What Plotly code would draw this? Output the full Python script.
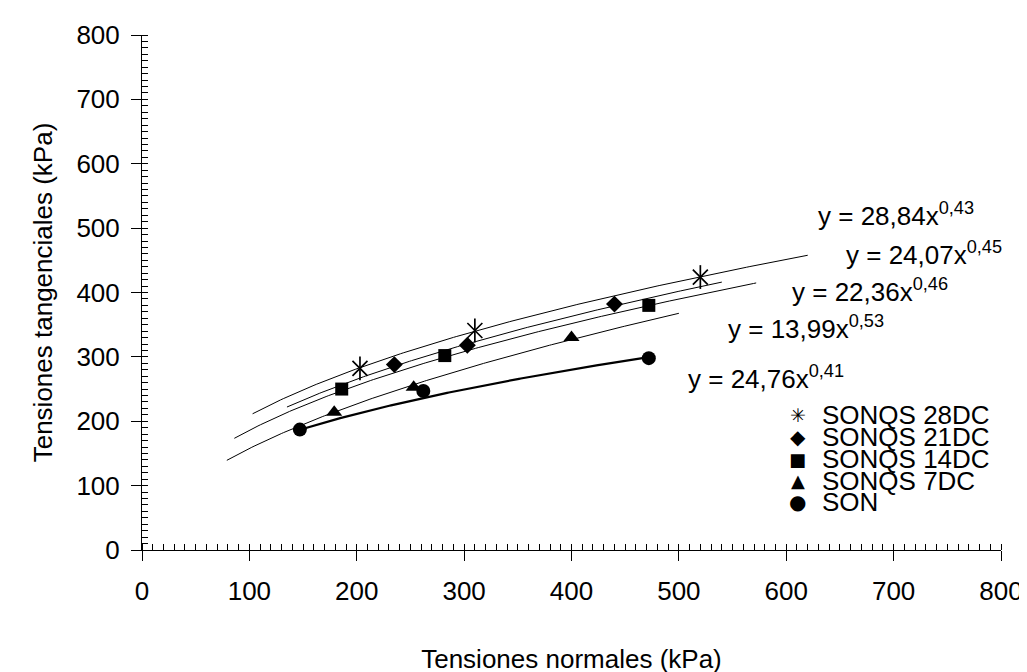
import numpy as np
import plotly.graph_objects as go

# ---------------- data ----------------
series_names = ["SONQS 28DC", "SONQS 21DC", "SONQS 14DC", "SONQS 7DC", "SON"]

x_28dc = [203, 310, 520]
y_28dc = [282, 341, 424]
x_21dc = [235, 303, 440]
y_21dc = [288, 318, 382]
x_14dc = [186, 282, 472]
y_14dc = [250, 302, 380]
x_7dc = [179, 253, 400]
y_7dc = [214, 253, 330]
x_son = [147, 262, 472]
y_son = [187, 247, 298]

# power trendlines printed on the chart: y = a * x^b
# (exponents; they round to the printed values)
trend_a = [28.84, 24.07, 22.36, 13.99, 24.76]
trend_b = [0.430, 0.453, 0.460, 0.526, 0.405]
trend_x_start = [103, 135, 86, 79, 147]
trend_x_end = [620, 540, 572, 500, 472]
eq_labels = ["y = 28,84x<sup>0,43</sup>", "y = 24,07x<sup>0,45</sup>",
             "y = 22,36x<sup>0,46</sup>", "y = 13,99x<sup>0,53</sup>",
             "y = 24,76x<sup>0,41</sup>"]

x_ticks = [0, 100, 200, 300, 400, 500, 600, 700, 800]
y_ticks = [0, 100, 200, 300, 400, 500, 600, 700, 800]

# ---------------- layout helpers ----------------
W, H = 1027, 672
ML, MR, MT, MB = 134, 27, 22, 123
PW, PH = W - ML - MR, H - MT - MB
FONT = "Liberation Sans, Arial, sans-serif"
FS = 26


def px_x(p):
    return (p - ML) / PW


def px_y(p):
    return (H - MB - p) / PH


line_widths = [1, 1, 1, 1, 2.2]

fig = go.Figure()

# trendlines
for i in range(5):
    xt = np.linspace(trend_x_start[i], trend_x_end[i], 200)
    yt = trend_a[i] * xt ** trend_b[i]
    fig.add_trace(go.Scatter(x=xt, y=yt, mode="lines",
                             line=dict(color="black", width=line_widths[i]),
                             showlegend=False, hoverinfo="skip"))

# markers
fig.add_trace(go.Scatter(x=x_28dc, y=y_28dc, mode="markers", name=series_names[0],
                         marker=dict(symbol="x-thin-open", size=15, color="black",
                                     line=dict(color="black", width=1.7)), showlegend=False))
fig.add_trace(go.Scatter(x=x_28dc, y=y_28dc, mode="markers", name=series_names[0],
                         marker=dict(symbol="line-ns-open", size=17, color="black",
                                     line=dict(color="black", width=1.7)), showlegend=False))
fig.add_trace(go.Scatter(x=x_21dc, y=y_21dc, mode="markers", name=series_names[1],
                         marker=dict(symbol="diamond", size=13, color="black",
                                     line=dict(width=0)), showlegend=False))
fig.add_trace(go.Scatter(x=x_14dc, y=y_14dc, mode="markers", name=series_names[2],
                         marker=dict(symbol="square", size=13, color="black",
                                     line=dict(width=0)), showlegend=False))
fig.add_trace(go.Scatter(x=x_7dc, y=y_7dc, mode="markers", name=series_names[3],
                         marker=dict(symbol="triangle-up", size=14, color="black",
                                     line=dict(width=0)), showlegend=False))
fig.add_trace(go.Scatter(x=x_son, y=y_son, mode="markers", name=series_names[4],
                         marker=dict(symbol="circle", size=14, color="black",
                                     line=dict(width=0)), showlegend=False))

annotations = []
# equation labels
eq_px = [(813, 206), (842, 246), (787, 283), (723, 321), (682, 372)]
for lab, (ex, ey) in zip(eq_labels, eq_px):
    annotations.append(dict(x=px_x(ex), y=px_y(ey), xref="paper", yref="paper",
                            text=lab, showarrow=False, xanchor="left", yanchor="middle",
                            font=dict(family=FONT, size=FS, color="black")))

# legend (manual, to match the tight row spacing of the original)
legend_glyphs = ["✳", "◆", "■", "▲", "●"]
glyph_sizes = [19, 20, 18, 18, 20]
row_y = [411, 433, 456, 478, 500]
for name, g, gs, ry in zip(series_names, legend_glyphs, glyph_sizes, row_y):
    annotations.append(dict(x=px_x(795), y=px_y(ry), xref="paper", yref="paper",
                            text=g, showarrow=False, xanchor="center", yanchor="middle",
                            font=dict(family="DejaVu Sans", size=gs, color="black")))
    annotations.append(dict(x=px_x(818), y=px_y(ry), xref="paper", yref="paper",
                            text=name, showarrow=False, xanchor="left", yanchor="middle",
                            font=dict(family=FONT, size=FS, color="black")))

axis_common = dict(
    showline=True, linecolor="black", linewidth=1,
    showgrid=False, zeroline=False,
    ticks="outside", ticklen=10, tickwidth=1, tickcolor="black",
    tickfont=dict(family=FONT, size=FS, color="black"),
    minor=dict(ticks="inside", ticklen=6, tickwidth=1, tickcolor="black",
               dtick=10, showgrid=False),
    range=[0, 800], tickmode="array",
)

fig.update_layout(
    width=W, height=H,
    margin=dict(l=ML, r=MR, t=MT, b=MB),
    paper_bgcolor="white", plot_bgcolor="white",
    showlegend=False,
    xaxis=dict(**axis_common, tickvals=x_ticks, ticktext=[str(v) for v in x_ticks],
               ticklabelstandoff=8,
               title=dict(text="Tensiones normales (kPa)", standoff=44,
                          font=dict(family=FONT, size=FS, color="black"))),
    yaxis=dict(**axis_common, tickvals=y_ticks, ticktext=[str(v) for v in y_ticks],
               ticklabelstandoff=6,
               title=dict(text="Tensiones tangenciales (kPa)", standoff=16,
                          font=dict(family=FONT, size=FS, color="black"))),
    annotations=annotations,
)

fig.write_html("out.html")
